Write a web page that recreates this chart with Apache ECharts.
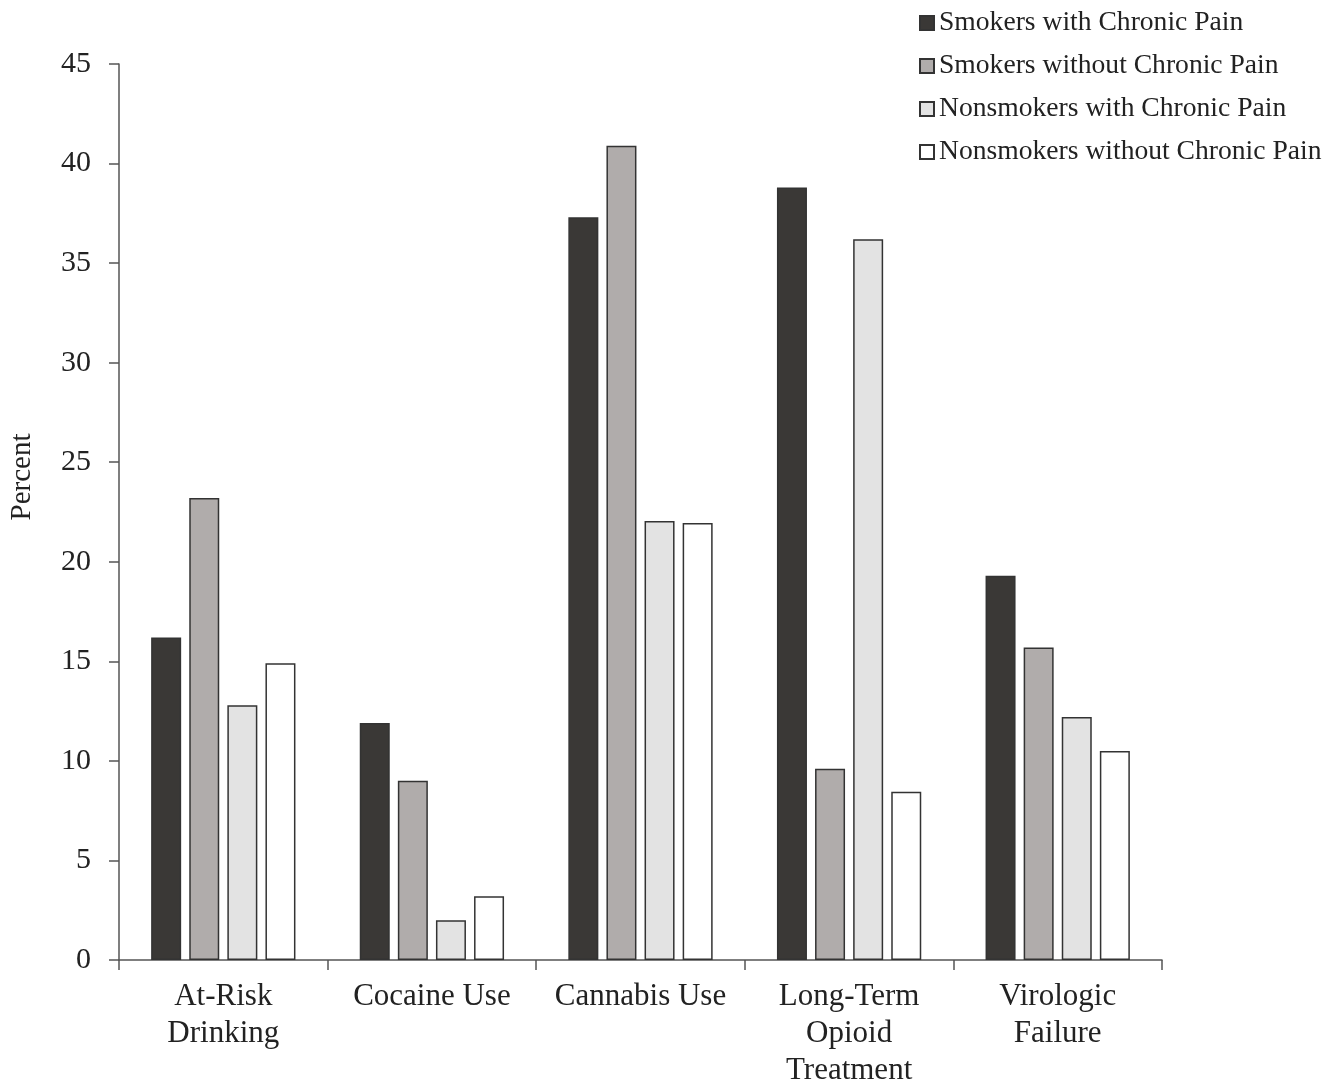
<!DOCTYPE html>
<html>
<head>
<meta charset="utf-8">
<script src="https://cdn.jsdelivr.net/npm/echarts@6/dist/echarts.min.js"></script>
<style>html,body{margin:0;padding:0;background:#fff;}#c{width:1342px;height:1089px;}</style>
</head>
<body>
<div id="c"></div>
<script>
var categories = ['At-Risk\nDrinking', 'Cocaine Use', 'Cannabis Use', 'Long-Term\nOpioid\nTreatment', 'Virologic\nFailure'];
var seriesNames = ['Smokers with Chronic Pain', 'Smokers without Chronic Pain', 'Nonsmokers with Chronic Pain', 'Nonsmokers without Chronic Pain'];
var smokersPain = [16.2, 11.9, 37.3, 38.8, 19.3];
var smokersNoPain = [23.2, 9.0, 40.9, 9.6, 15.7];
var nonsmokersPain = [12.8, 2.0, 22.05, 36.2, 12.2];
var nonsmokersNoPain = [14.9, 3.2, 21.95, 8.45, 10.5];
var fills = ['#3a3836', '#b0acab', '#e3e3e3', '#ffffff'];

var font = "'Liberation Serif', 'Times New Roman', serif";
var dataSets = [smokersPain, smokersNoPain, nonsmokersPain, nonsmokersNoPain];
var chart = echarts.init(document.getElementById('c'), null, {renderer: 'canvas'});
chart.setOption({
  animation: false,
  backgroundColor: '#fff',
  textStyle: {fontFamily: font},
  grid: {left: 119, right: 180, top: 64, bottom: 118, containLabel: false},
  legend: {
    orient: 'vertical', left: 914, top: 4,
    itemWidth: 14, itemHeight: 14, itemGap: 15, icon: 'rect',
    textStyle: {fontFamily: font, fontSize: 27.6, color: '#222', lineHeight: 28},
    data: seriesNames
  },
  xAxis: {
    type: 'category', data: categories,
    axisLine: {lineStyle: {color: '#555', width: 1.5}},
    axisTick: {show: true, length: 10, lineStyle: {color: '#555', width: 1.5}},
    axisLabel: {fontFamily: font, fontSize: 31, color: '#222', lineHeight: 37, margin: 18, interval: 0}
  },
  yAxis: {
    type: 'value', min: 0, max: 45, interval: 5,
    name: 'Percent', nameLocation: 'middle', nameGap: 82,
    nameTextStyle: {fontFamily: font, fontSize: 29, color: '#222', padding: [0, 0, 0, 70]},
    axisLine: {show: true, lineStyle: {color: '#555', width: 1.5}},
    axisTick: {show: true, length: 10, lineStyle: {color: '#555', width: 1.5}},
    axisLabel: {fontFamily: font, fontSize: 30, color: '#222', margin: 28},
    splitLine: {show: false}
  },
  series: dataSets.map(function (d, i) {
    return {
      name: seriesNames[i], type: 'bar', data: d,
      barWidth: 30, barGap: '27%',
      itemStyle: {color: fills[i], borderColor: '#333', borderWidth: 1.5}
    };
  })
});
</script>
</body>
</html>
